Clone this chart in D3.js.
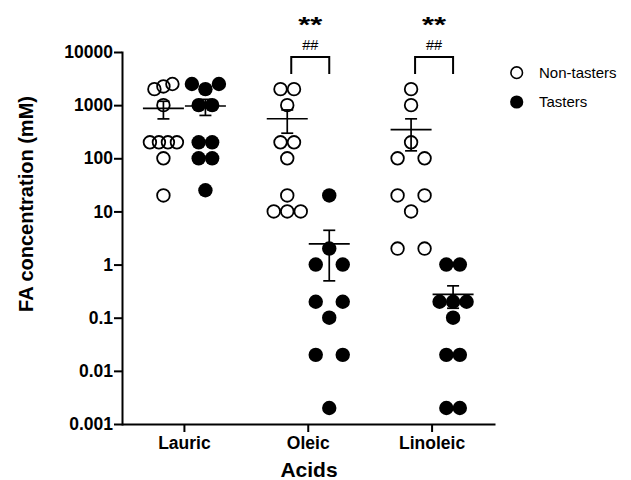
<!DOCTYPE html>
<html><head><meta charset="utf-8">
<script src="https://cdn.jsdelivr.net/npm/d3@7"></script>
<style>body{margin:0;background:#fff} svg{display:block}</style>
</head><body>
<svg id="c" width="631" height="480"></svg>
<script>
// ---------------- data ----------------
const categories = ["Lauric", "Oleic", "Linoleic"];
const groups = ["Non-tasters", "Tasters"];
const lauricNonTasters   = [2000, 2250, 2500, 1000, 200, 200, 200, 200, 100, 20];
const lauricTasters      = [2500, 2000, 2500, 1000, 1000, 200, 200, 100, 100, 25];
const oleicNonTasters    = [2000, 2000, 1000, 200, 200, 100, 20, 10, 10, 10];
const oleicTasters       = [20, 2, 1, 1, 0.2, 0.2, 0.1, 0.02, 0.02, 0.002];
const linoleicNonTasters = [2000, 1000, 200, 100, 100, 20, 20, 10, 2, 2];
const linoleicTasters    = [1, 1, 0.2, 0.2, 0.2, 0.1, 0.02, 0.02, 0.002, 0.002];
const yTickValues = [0.001, 0.01, 0.1, 1, 10, 100, 1000, 10000];
const yTickLabels = ["0.001", "0.01", "0.1", "1", "10", "100", "1000", "10000"];
const sigCategories = ["Oleic", "Linoleic"];
const sigStars = ["**", "**"];
const sigHashes = ["##", "##"];
const yTitle = "FA concentration (mM)";
const xTitle = "Acids";

const series = [
  {cat: "Lauric",   grp: "Non-tasters", values: lauricNonTasters},
  {cat: "Lauric",   grp: "Tasters",     values: lauricTasters},
  {cat: "Oleic",    grp: "Non-tasters", values: oleicNonTasters},
  {cat: "Oleic",    grp: "Tasters",     values: oleicTasters},
  {cat: "Linoleic", grp: "Non-tasters", values: linoleicNonTasters},
  {cat: "Linoleic", grp: "Tasters",     values: linoleicTasters}
];

// ---------------- layout ----------------
const FONT = "'Liberation Sans', Arial, Helvetica, sans-serif";
const svg = d3.select("#c");
const x = d3.scaleBand().domain(categories).range([122.5, 494]);
const sub = d3.scalePoint().domain(groups).range([-21, 21]);
const y = d3.scaleLog().domain([0.001, 10000]).range([424, 52]);
const colX = (c, g) => x(c) + x.bandwidth() / 2 + sub(g);

const S0 = 14, WMAX = 27, D_SINGLE = 21, ROW_GAP = 8;

function swarm(values, cx) {
  const pts = values.map((v, i) => ({v, i, y: y(v)}));
  const sorted = pts.slice().sort((a, b) => a.y - b.y || a.i - b.i);
  const rows = []; let cur = null;
  sorted.forEach(p => {
    if (cur && p.y - cur[cur.length - 1].y < ROW_GAP) cur.push(p);
    else { cur = [p]; rows.push(cur); }
  });
  rows.forEach(r => r.sort((a, b) => a.i - b.i));
  const singles = rows.filter(r => r.length === 1).map(r => r[0]);
  singles.forEach(p => p.x = cx);
  const multi = rows.filter(r => r.length > 1);
  let sCol = S0, sMax = Infinity;
  multi.forEach(r => {
    const n = r.length;
    sMax = Math.min(sMax, WMAX / (n - 1));
    r.forEach((p, k) => {
      const f = Math.abs(k - (n - 1) / 2);
      if (f < 1e-6) return;
      singles.forEach(q => {
        const dy = Math.abs(p.y - q.y);
        if (dy < D_SINGLE) sCol = Math.max(sCol, Math.sqrt(D_SINGLE * D_SINGLE - dy * dy) / f);
      });
    });
  });
  const s = Math.min(sCol, sMax);
  multi.forEach(r => {
    const n = r.length;
    r.forEach((p, k) => p.x = cx + (k - (n - 1) / 2) * s);
  });
  return pts;
}

// ---------------- axes ----------------
const yAxis = svg.append("g").attr("transform", "translate(122,0)")
  .call(d3.axisLeft(y).tickValues(yTickValues)
    .tickFormat((d, i) => yTickLabels[i]).tickSize(8).tickSizeOuter(0).tickPadding(1));
const xAxis = svg.append("g").attr("transform", "translate(0,424)")
  .call(d3.axisBottom(x).tickSize(8).tickSizeOuter(0).tickPadding(5));
[yAxis, xAxis].forEach(a => {
  a.selectAll("path.domain").attr("stroke", "#000").attr("stroke-width", 2).attr("stroke-linecap", "square");
  a.selectAll(".tick line").attr("stroke", "#000").attr("stroke-width", 2);
  a.selectAll(".tick text").attr("fill", "#000").style("font-family", FONT)
    .style("font-weight", "bold").style("font-size", "17.5px");
});

svg.append("text").attr("x", 309).attr("y", 477).attr("text-anchor", "middle")
  .style("font-family", FONT).style("font-weight", "bold").style("font-size", "21px").text(xTitle);
svg.append("text").attr("transform", "translate(33,204) rotate(-90)").attr("text-anchor", "middle")
  .style("font-family", FONT).style("font-weight", "bold").style("font-size", "20px").text(yTitle);

// ---------------- points ----------------
const gPts = svg.append("g");
series.forEach(s => {
  const cx = colX(s.cat, s.grp);
  const pts = swarm(s.values, cx);
  const open = s.grp === "Non-tasters";
  gPts.selectAll(null).data(pts).enter().append("circle")
    .attr("cx", d => d.x).attr("cy", d => d.y)
    .attr("r", open ? 6.3 : 7.2)
    .attr("fill", open ? "none" : "#000")
    .attr("stroke", open ? "#000" : "none")
    .attr("stroke-width", open ? 1.8 : 0);
});

// ---------------- mean +/- SEM ----------------
const gErr = svg.append("g").attr("stroke", "#000").attr("stroke-width", 1.7);
series.forEach(s => {
  const cx = colX(s.cat, s.grp);
  const m = d3.mean(s.values);
  const sem = d3.deviation(s.values) / Math.sqrt(s.values.length);
  const yt = y(m + sem), yb = y(m - sem), ym = y(m);
  gErr.append("line").attr("x1", cx - 20.5).attr("x2", cx + 20.5).attr("y1", ym).attr("y2", ym);
  gErr.append("line").attr("x1", cx).attr("x2", cx).attr("y1", yt).attr("y2", yb);
  gErr.append("line").attr("x1", cx - 6).attr("x2", cx + 6).attr("y1", yt).attr("y2", yt);
  gErr.append("line").attr("x1", cx - 6).attr("x2", cx + 6).attr("y1", yb).attr("y2", yb);
});

// ---------------- significance ----------------
sigCategories.forEach((c, i) => {
  const xl = colX(c, "Non-tasters") + 4, xr = colX(c, "Tasters");
  svg.append("path").attr("d", `M${xl},74V57H${xr}V74`)
    .attr("fill", "none").attr("stroke", "#000").attr("stroke-width", 2);
  const xm = (xl + xr) / 2;
  svg.append("text").attr("x", xm).attr("y", 31.5).attr("text-anchor", "middle")
    .attr("textLength", 24).attr("lengthAdjust", "spacingAndGlyphs")
    .style("font-family", FONT).style("font-weight", "bold").style("font-size", "22px").text(sigStars[i]);
  svg.append("text").attr("x", xm).attr("y", 49.5).attr("text-anchor", "middle")
    .style("font-family", FONT).style("font-size", "14.5px").text(sigHashes[i]);
});

// ---------------- legend ----------------
const lg = svg.append("g");
groups.forEach((g, i) => {
  const cy = 72.7 + i * 29.3;
  const open = g === "Non-tasters";
  lg.append("circle").attr("cx", 516.7).attr("cy", cy).attr("r", open ? 5.8 : 6.6)
    .attr("fill", open ? "none" : "#000").attr("stroke", open ? "#000" : "none").attr("stroke-width", open ? 1.6 : 0);
  lg.append("text").attr("x", 539).attr("y", cy + 5.3)
    .style("font-family", FONT).style("font-size", "15px").text(g);
});
</script>
</body></html>
